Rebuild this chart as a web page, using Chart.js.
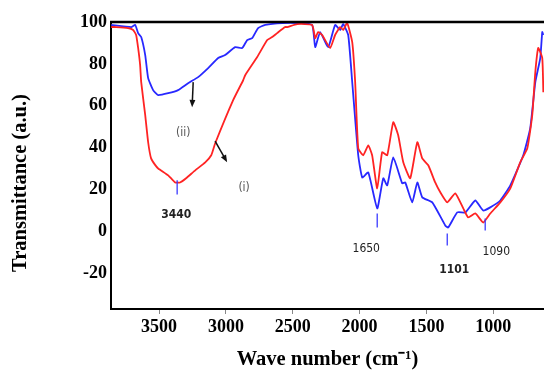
<!DOCTYPE html>
<html lang="en">
<head>
    <meta charset="UTF-8">
    <title>FTIR spectra</title>
    <script src="https://cdn.jsdelivr.net/npm/chart.js"></script>
    <style>
        body { margin: 0; background: #fff; }
        #ftirChart { display: block; }
    </style>
</head>
<body>
    <canvas id="ftirChart" width="544" height="372"></canvas>
    <script>
        // Wave numbers (cm-1) and transmittance
        var redWave = [3859, 3822, 3732, 3694, 3672, 3657, 3642, 3634, 3604, 3582, 3560, 3530, 3507, 3432, 3380, 3343, 3298, 3230, 3155, 3110, 3081, 2946, 2871, 2856, 2766, 2691, 2654, 2617, 2557, 2542, 2467, 2355, 2332, 2310, 2280, 2220, 2183, 2145, 2123, 2093, 2055, 2033, 2010, 1973, 1935, 1906, 1868, 1831, 1793, 1748, 1711, 1673, 1621, 1568, 1531, 1486, 1434, 1396, 1344, 1284, 1224, 1187, 1134, 1075, 1022, 947, 872, 798, 745, 708, 685, 663, 633, 625];
        var redT = [97.6, 97.6, 97.1, 96.2, 93.8, 87.6, 79.4, 71.3, 55.5, 42.6, 34.9, 31.8, 30.1, 26.8, 23.4, 23.4, 25.4, 29.2, 33.0, 36.4, 42.0, 62.7, 72.2, 74.6, 83.3, 91.4, 92.8, 94.7, 97.6, 97.6, 99.0, 98.6, 92.3, 95.2, 93.8, 87.6, 93.8, 97.6, 96.2, 99.5, 90.4, 71.3, 39.7, 36.4, 41.1, 36.4, 20.6, 37.8, 36.4, 52.2, 45.9, 33.0, 25.4, 42.6, 34.9, 31.6, 23.4, 18.7, 13.9, 18.2, 11.0, 6.7, 8.6, 4.3, 8.6, 13.9, 20.6, 33.0, 39.7, 55.5, 76.1, 87.6, 82.8, 66.5];

        var blueWave = [3859, 3709, 3679, 3657, 3634, 3604, 3582, 3545, 3507, 3432, 3358, 3283, 3208, 3133, 3058, 3006, 2931, 2878, 2841, 2804, 2759, 2706, 2579, 2459, 2355, 2332, 2295, 2235, 2183, 2145, 2123, 2085, 2055, 2010, 1980, 1935, 1868, 1823, 1793, 1748, 1681, 1658, 1606, 1568, 1531, 1456, 1359, 1337, 1269, 1209, 1134, 1075, 1022, 947, 872, 775, 723, 685, 648, 633, 625];
        var blueT = [98.6, 97.6, 98.6, 94.7, 92.8, 84.2, 73.2, 67.5, 65.1, 66.0, 67.5, 70.8, 73.7, 78.0, 82.8, 84.2, 88.0, 87.6, 91.4, 92.3, 97.1, 98.6, 99.5, 99.5, 98.6, 88.0, 95.2, 88.0, 98.6, 96.2, 99.0, 93.8, 71.3, 36.4, 25.8, 28.2, 11.0, 25.4, 22.0, 35.4, 23.0, 23.4, 13.9, 23.4, 16.3, 13.9, 2.9, 1.9, 9.1, 9.1, 14.8, 10.0, 11.5, 14.8, 22.0, 36.4, 49.3, 71.3, 82.8, 95.2, 93.8];

        var xTicks = [3500, 3000, 2500, 2000, 1500, 1000];
        var yTicks = [-20, 0, 20, 40, 60, 80, 100];

        // Peak markers: wave number, top/bottom of the small tick, label text and label position
        var peakWave = [3365, 1868, 1344, 1060];
        var peakTop = [24.4, 8.6, -1.0, 6.2];
        var peakBottom = [17.7, 1.9, -6.7, 0.5];
        var peakText = ['3440', '1650', '1101', '1090'];
        var peakLabelWave = [3372, 1950, 1292, 977];
        var peakLabelT = [7.7, -8.1, -18.2, -9.6];
        var peakBold = [true, false, true, false];

        // Curve labels and arrows
        var curveText = ['(ii)', '(i)'];
        var curveTextWave = [3320, 2864];
        var curveTextT = [46.9, 20.6];
        var arrowFrom = [[3245, 71.3], [3081, 43.1]];
        var arrowTo = [[3253, 59.3], [2991, 33.0]];

        var yTitle = 'Transmittance (a.u.)';

        function points(xs, ys) {
            return xs.map(function (x, i) { return { x: x, y: ys[i] }; });
        }

        var serif = "'Liberation Serif', 'Times New Roman', serif";
        var narrow = "'Liberation Sans Narrow', 'DejaVu Sans Condensed', 'Liberation Sans', sans-serif";

        var annotations = {
            id: 'annotations',
            afterDraw: function (chart) {
                var ctx = chart.ctx;
                var xs = chart.scales.x, ys = chart.scales.y;
                var area = chart.chartArea;
                ctx.save();

                // top frame line
                ctx.strokeStyle = '#000';
                ctx.lineWidth = 2.5;
                ctx.beginPath();
                ctx.moveTo(area.left - 1, area.top);
                ctx.lineTo(area.right, area.top);
                ctx.stroke();

                // y axis title, sits a little below the middle like the original
                ctx.save();
                ctx.translate(21, 183);
                ctx.rotate(-Math.PI / 2);
                ctx.fillStyle = '#000';
                ctx.font = 'bold 20.5px ' + serif;
                ctx.textAlign = 'center';
                ctx.textBaseline = 'middle';
                ctx.fillText(yTitle, 0, 0);
                ctx.restore();

                // peak ticks and labels
                ctx.strokeStyle = '#3a3aff';
                ctx.lineWidth = 1.3;
                ctx.textAlign = 'center';
                ctx.textBaseline = 'middle';
                for (var i = 0; i < peakWave.length; i++) {
                    var px = xs.getPixelForValue(peakWave[i]);
                    ctx.beginPath();
                    ctx.moveTo(px, ys.getPixelForValue(peakTop[i]));
                    ctx.lineTo(px, ys.getPixelForValue(peakBottom[i]));
                    ctx.stroke();
                    ctx.fillStyle = '#222';
                    ctx.font = (peakBold[i] ? 'bold ' : '') + '12px ' + narrow;
                    ctx.fillText(peakText[i], xs.getPixelForValue(peakLabelWave[i]), ys.getPixelForValue(peakLabelT[i]));
                }

                // curve labels
                ctx.fillStyle = '#555';
                ctx.font = '12px ' + narrow;
                for (var j = 0; j < curveText.length; j++) {
                    ctx.fillText(curveText[j], xs.getPixelForValue(curveTextWave[j]), ys.getPixelForValue(curveTextT[j]));
                }

                // arrows
                ctx.strokeStyle = '#111';
                ctx.fillStyle = '#111';
                ctx.lineWidth = 1.5;
                for (var k = 0; k < arrowFrom.length; k++) {
                    var x1 = xs.getPixelForValue(arrowFrom[k][0]), y1 = ys.getPixelForValue(arrowFrom[k][1]);
                    var x2 = xs.getPixelForValue(arrowTo[k][0]), y2 = ys.getPixelForValue(arrowTo[k][1]);
                    var ang = Math.atan2(y2 - y1, x2 - x1);
                    var head = 8;
                    ctx.beginPath();
                    ctx.moveTo(x1, y1);
                    ctx.lineTo(x2 - Math.cos(ang) * head * 0.7, y2 - Math.sin(ang) * head * 0.7);
                    ctx.stroke();
                    ctx.beginPath();
                    ctx.moveTo(x2, y2);
                    ctx.lineTo(x2 - head * Math.cos(ang - 0.38), y2 - head * Math.sin(ang - 0.38));
                    ctx.lineTo(x2 - head * Math.cos(ang + 0.38), y2 - head * Math.sin(ang + 0.38));
                    ctx.closePath();
                    ctx.fill();
                }
                ctx.restore();
            }
        };

        var ctx = document.getElementById('ftirChart').getContext('2d');
        var ftirChart = new Chart(ctx, {
            type: 'line',
            data: {
                datasets: [{
                    label: '(i)',
                    data: points(redWave, redT),
                    borderColor: 'rgb(255, 35, 35)',
                    borderWidth: 1.8,
                    pointRadius: 0,
                    tension: 0.15,
                    fill: false
                }, {
                    label: '(ii)',
                    data: points(blueWave, blueT),
                    borderColor: 'rgb(40, 40, 255)',
                    borderWidth: 1.8,
                    pointRadius: 0,
                    tension: 0.15,
                    fill: false
                }]
            },
            options: {
                responsive: false,
                animation: false,
                layout: { padding: { top: 22, right: 0, left: 0, bottom: 0 } },
                plugins: {
                    legend: { display: false },
                    tooltip: { enabled: false }
                },
                scales: {
                    x: {
                        type: 'linear',
                        position: 'bottom',
                        reverse: true,
                        min: 620,
                        max: 3860,
                        afterBuildTicks: function (scale) {
                            scale.ticks = xTicks.map(function (v) { return { value: v }; });
                        },
                        afterFit: function (scale) { scale.height = 63; },
                        grid: { drawOnChartArea: false, drawTicks: true, tickLength: 5, color: '#888' },
                        border: { display: true, color: '#000', width: 2 },
                        ticks: {
                            color: '#000',
                            padding: 3,
                            maxRotation: 0,
                            callback: function (v) { return String(v); },
                            font: { family: serif, size: 18, weight: 'bold' }
                        },
                        title: {
                            display: true,
                            text: 'Wave number (cm\u207B\u00B9)',
                            color: '#000',
                            padding: { top: 0, bottom: 0 },
                            font: { family: serif, size: 20.5, weight: 'bold' }
                        }
                    },
                    y: {
                        type: 'linear',
                        min: -37,
                        max: 100,
                        afterBuildTicks: function (scale) {
                            scale.ticks = yTicks.map(function (v) { return { value: v }; });
                        },
                        afterFit: function (scale) { scale.width = 111; },
                        grid: { display: false, drawTicks: false },
                        border: { display: true, color: '#000', width: 2 },
                        ticks: {
                            color: '#000',
                            padding: 4,
                            callback: function (v) { return String(v); },
                            font: { family: serif, size: 18, weight: 'bold' }
                        }
                    }
                }
            },
            plugins: [annotations]
        });
    </script>
</body>
</html>
